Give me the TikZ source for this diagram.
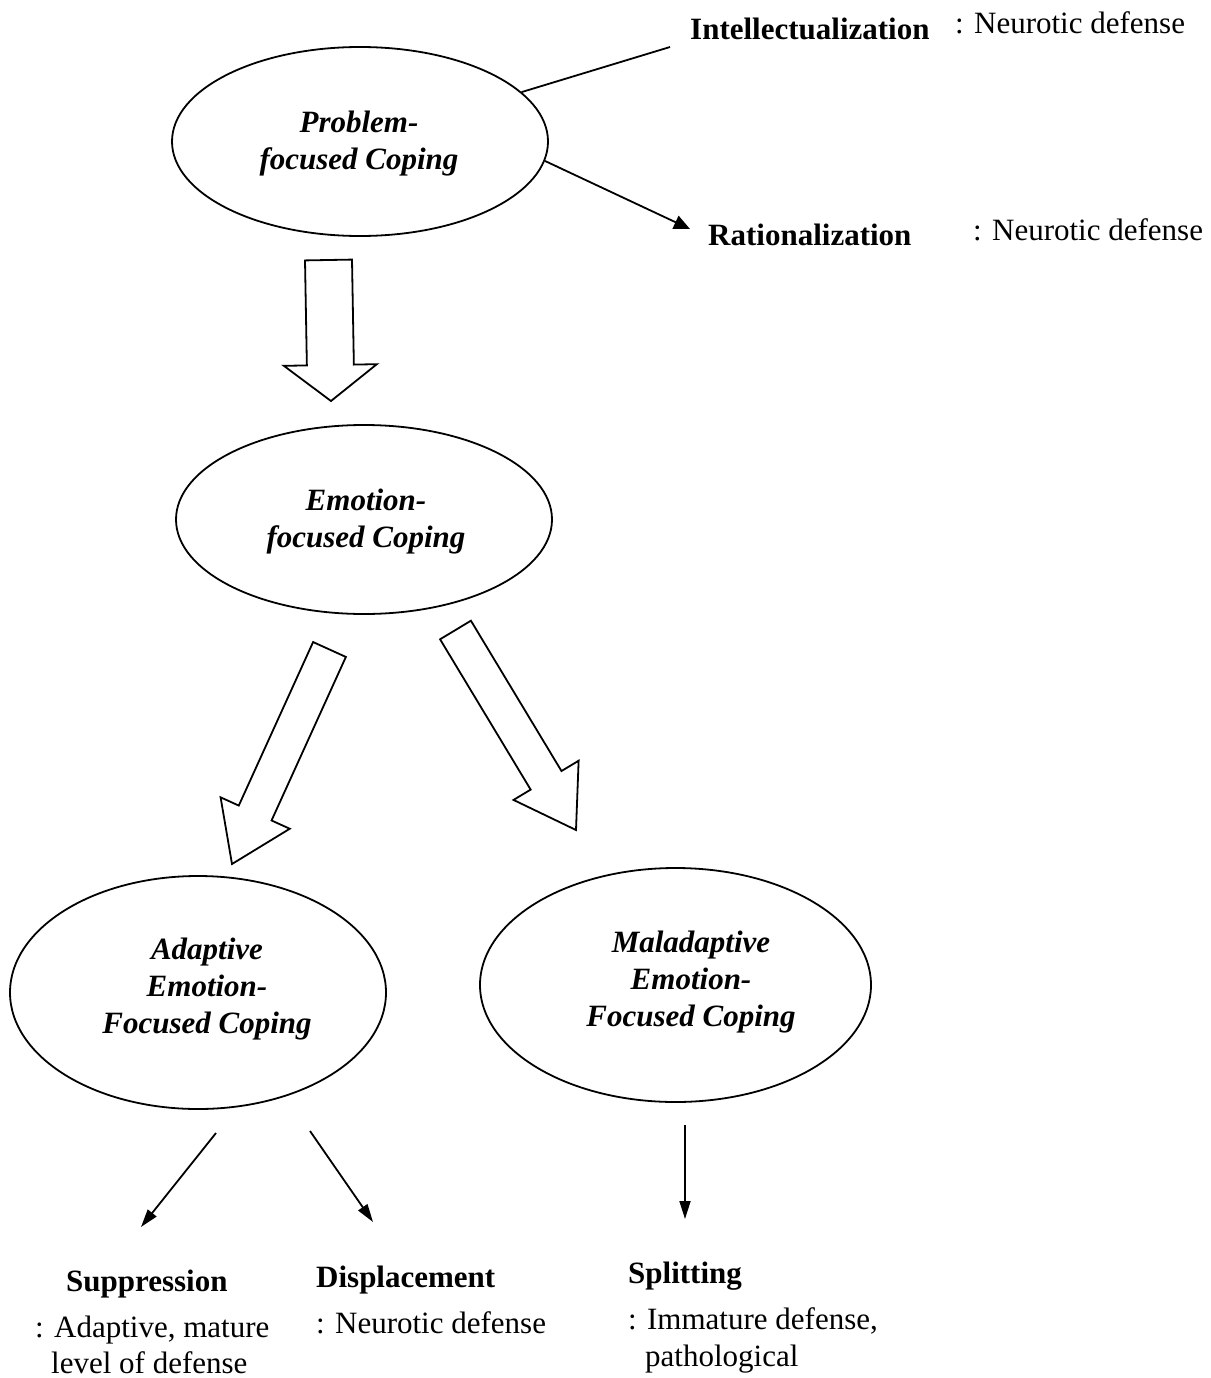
\documentclass[tikz,border=0pt]{standalone}
\usepackage{fontspec}
\setmainfont{Liberation Serif}
\usetikzlibrary{calc,arrows.meta,shapes.geometric}
\tikzset{
  ell/.style={draw, ellipse, line width=1.8pt, inner sep=0pt},
  etext/.style={font=\fontsize{31}{37}\selectfont\bfseries\itshape, align=center, inner sep=0pt},
  lab/.style={font=\fontsize{31}{37}\selectfont\bfseries, inner sep=0pt, anchor=base west},
  desc/.style={font=\fontsize{31}{37}\selectfont, inner sep=0pt, anchor=base west},
  thinarrow/.style={line width=1.8pt, -{Triangle[length=18pt,width=11pt]}},
  blk/.style={draw, line width=1.8pt, line join=miter, fill=white},
}
\newcommand{\blockarrow}[5]{%
  \coordinate (bh) at ($(#2)!#5!(#1)$);
  \draw[blk] ($(#1)!#3!90:(#2)$) -- ($(bh)!#3!90:(#2)$) -- ($(bh)!#4!90:(#2)$) -- (#2)
    -- ($(bh)!#4!-90:(#2)$) -- ($(bh)!#3!-90:(#2)$) -- ($(#1)!#3!-90:(#2)$) -- cycle;
}
\begin{document}
\begin{tikzpicture}[x=1pt,y=-1pt]
\useasboundingbox[fill=white] (0,0) rectangle (1210,1378);

% ellipses
\node[ell, minimum width=376pt, minimum height=189pt] (prob) at (360,141.5) {};
\node[etext] (probT) at (359,144) {Problem-\\focused Coping};
\node[ell, minimum width=376pt, minimum height=189pt] (emo) at (364,519.5) {};
\node[etext] (emoT) at (366,522) {Emotion-\\focused Coping};
\node[ell, minimum width=376pt, minimum height=233pt] (adapt) at (198,992.5) {};
\node[etext] (adaptT) at (207,989) {Adaptive\\Emotion-\\Focused Coping};
\node[ell, minimum width=391pt, minimum height=234pt] (malad) at (675.5,985) {};
\node[etext] (maladT) at (691,982) {Maladaptive\\Emotion-\\Focused Coping};

% top labels
\node[lab] (intel) at (690,40) {Intellectualization};
\node[desc] (intelD) at (955,34) {: Neurotic defense};
\node[lab] (ratio) at (708,245) {Rationalization};
\node[desc] (ratioD) at (973,240) {: Neurotic defense};

\coordinate (intelE) at (670,47);
\coordinate (ratioE) at (690,229);
\draw[line width=1.8pt] (prob.17) -- (intelE);
\draw[line width=1.8pt, -{Triangle[length=16pt,width=14pt]}] (prob.-6.5) -- (ratioE);

% block arrows
\coordinate (a1s) at (328.5,260);
\coordinate (a1t) at (331,401);
\blockarrow{a1s}{a1t}{23.5pt}{46.5pt}{36pt}
\coordinate (a2s) at (329.5,649.5);
\coordinate (a2t) at (232,864);
\blockarrow{a2s}{a2t}{18pt}{38pt}{56pt}
\coordinate (a3s) at (455.5,630);
\coordinate (a3t) at (576,830);
\blockarrow{a3s}{a3t}{18pt}{38pt}{58pt}

% thin arrows
\coordinate (s1s) at (216,1133);
\coordinate (s1e) at (141,1227);
\coordinate (s2s) at (310,1131);
\coordinate (s2e) at (373,1222);
\coordinate (s3s) at (685,1125);
\coordinate (s3e) at (685,1219);
\draw[thinarrow] (s1s) -- (s1e);
\draw[thinarrow] (s2s) -- (s2e);
\draw[thinarrow] (s3s) -- (s3e);

% bottom labels
\node[lab] (supp) at (66,1291) {Suppression};
\node[desc] (suppD1) at (35,1337) {: Adaptive, mature};
\node[desc] (suppD2) at (51,1373) {level of defense};
\node[lab] (disp) at (316,1287) {Displacement};
\node[desc] (dispD) at (316,1333) {: Neurotic defense};
\node[lab] (split) at (628,1283) {Splitting};
\node[desc] (splitD1) at (628,1329) {: Immature defense,};
\node[desc] (splitD2) at (645,1366) {pathological};
\end{tikzpicture}
\end{document}
